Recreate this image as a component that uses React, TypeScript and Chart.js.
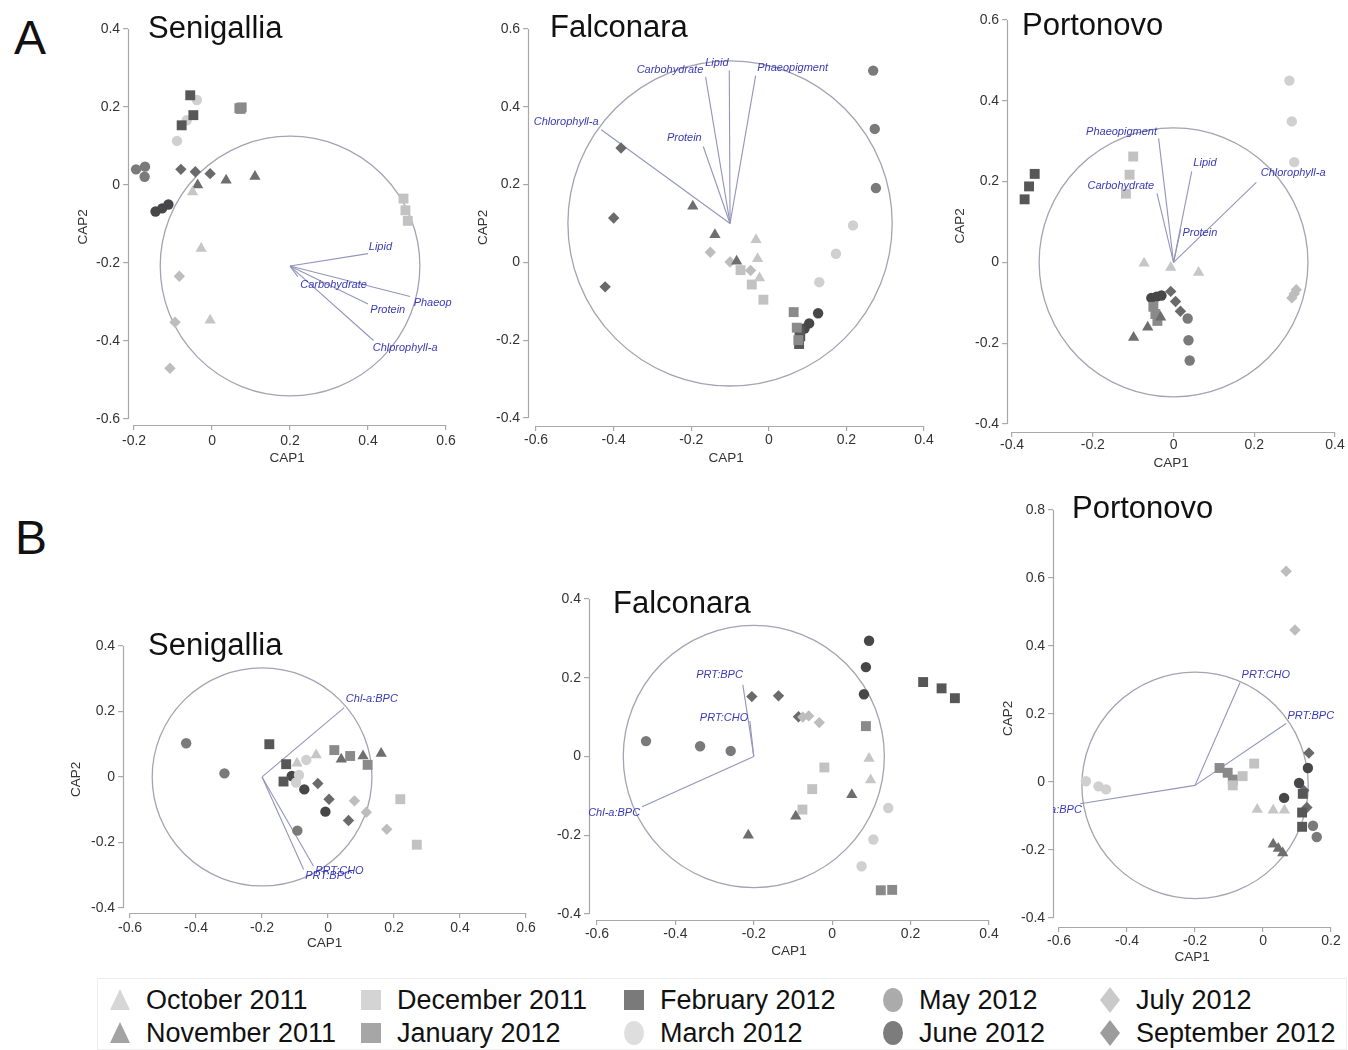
import React, { useEffect, useRef } from "react";
import { Chart, registerables } from "chart.js";

Chart.register(...registerables);

const FONT = '"Liberation Sans", Arial, Helvetica, sans-serif';
const TICK_COLOR = "#333333";
const AXIS_COLOR = "#a8a8a8";
const CIRCLE_COLOR = "#a3a3b3";
const VECTOR_COLOR = "#9494bc";
const VLABEL_COLOR = "#3a3ab4";

// ---------- months (legend) ----------
const MONTHS = [
  "October 2011", "November 2011", "December 2011", "January 2012", "February 2012",
  "March 2012", "May 2012", "June 2012", "July 2012", "September 2012",
];
const MONTH_SHAPES = ["triangle", "triangle", "rect", "rect", "rect", "circle", "circle", "circle", "rectRot", "rectRot"];
const MONTH_COLORS = ["#c6c6c6", "#6e6e6e", "#c2c2c2", "#8a8a8a", "#575757", "#d0d0d0", "#7a7a7a", "#474747", "#bdbdbd", "#6a6a6a"];
const LEGEND_COLORS = ["#d6d6d6", "#a3a3a3", "#d4d4d4", "#a6a6a6", "#7a7a7a", "#dedede", "#ababab", "#7c7c7c", "#cacaca", "#9c9c9c"];
const SHAPE_RADIUS: Record<string, number> = { triangle: 6.5, rect: 7, circle: 5.2, rectRot: 5.7 };

// ---------- tick values ----------
const A_SEN_X_TICKS = [-0.2, 0, 0.2, 0.4, 0.6];
const A_SEN_Y_TICKS = [-0.6, -0.4, -0.2, 0, 0.2, 0.4];
const A_FAL_X_TICKS = [-0.6, -0.4, -0.2, 0, 0.2, 0.4];
const A_FAL_Y_TICKS = [-0.4, -0.2, 0, 0.2, 0.4, 0.6];
const A_POR_X_TICKS = [-0.4, -0.2, 0, 0.2, 0.4];
const A_POR_Y_TICKS = [-0.4, -0.2, 0, 0.2, 0.4, 0.6];
const B_SEN_X_TICKS = [-0.6, -0.4, -0.2, 0, 0.2, 0.4, 0.6];
const B_SEN_Y_TICKS = [-0.4, -0.2, 0, 0.2, 0.4];
const B_FAL_X_TICKS = [-0.6, -0.4, -0.2, 0, 0.2, 0.4];
const B_FAL_Y_TICKS = [-0.4, -0.2, 0, 0.2, 0.4];
const B_POR_X_TICKS = [-0.6, -0.4, -0.2, 0, 0.2];
const B_POR_Y_TICKS = [-0.4, -0.2, 0, 0.2, 0.4, 0.6, 0.8];

// ---------- points: one list per month, in MONTHS order: [CAP1, CAP2] ----------
const A_SENIGALLIA_POINTS = [
  [[-0.05, -0.018], [-0.028, -0.163], [-0.005, -0.347]],
  [[-0.037, 0.0], [0.036, 0.012], [0.11, 0.022]],
  [[0.491, -0.035], [0.496, -0.065], [0.502, -0.092]],
  [[0.07, 0.197], [0.076, 0.199], [0.073, 0.195]],
  [[-0.056, 0.23], [-0.048, 0.179], [-0.078, 0.153]],
  [[-0.039, 0.218], [-0.065, 0.166], [-0.09, 0.113]],
  [[-0.195, 0.04], [-0.172, 0.047], [-0.173, 0.021]],
  [[-0.145, -0.068], [-0.128, -0.06], [-0.112, -0.05]],
  [[-0.084, -0.234], [-0.095, -0.352], [-0.108, -0.47]],
  [[-0.08, 0.04], [-0.043, 0.034], [-0.005, 0.029]],
];
const A_FALCONARA_POINTS = [
  [[-0.033, 0.058], [-0.029, 0.009], [-0.024, -0.04]],
  [[-0.196, 0.144], [-0.139, 0.071], [-0.083, 0.003]],
  [[-0.073, -0.02], [-0.044, -0.057], [-0.014, -0.096]],
  [[0.064, -0.128], [0.072, -0.168], [0.076, -0.2]],
  [[0.079, -0.175], [0.081, -0.19], [0.078, -0.21]],
  [[0.217, 0.095], [0.173, 0.022], [0.13, -0.051]],
  [[0.269, 0.493], [0.273, 0.343], [0.276, 0.191]],
  [[0.127, -0.131], [0.104, -0.157], [0.092, -0.17]],
  [[-0.151, 0.026], [-0.1, 0.001], [-0.047, -0.021]],
  [[-0.381, 0.294], [-0.4, 0.114], [-0.422, -0.063]],
];
const A_PORTONOVO_POINTS = [
  [[-0.073, -0.002], [-0.007, -0.013], [0.062, -0.025]],
  [[-0.099, -0.186], [-0.064, -0.161], [-0.032, -0.136]],
  [[-0.1, 0.262], [-0.109, 0.217], [-0.118, 0.17]],
  [[-0.05, -0.11], [-0.045, -0.128], [-0.04, -0.145]],
  [[-0.344, 0.219], [-0.358, 0.188], [-0.369, 0.156]],
  [[0.287, 0.45], [0.293, 0.349], [0.299, 0.248]],
  [[0.035, -0.139], [0.037, -0.193], [0.04, -0.243]],
  [[-0.055, -0.088], [-0.042, -0.085], [-0.03, -0.082]],
  [[0.293, -0.088], [0.299, -0.078], [0.304, -0.068]],
  [[-0.007, -0.072], [0.005, -0.097], [0.017, -0.121]],
];
const B_SENIGALLIA_POINTS = [
  [[-0.094, 0.042], [-0.036, 0.067]],
  [[0.04, 0.054], [0.106, 0.064], [0.161, 0.072]],
  [[0.219, -0.068], [0.269, -0.207]],
  [[0.019, 0.082], [0.067, 0.064], [0.12, 0.037]],
  [[-0.178, 0.1], [-0.127, 0.039], [-0.135, -0.014]],
  [[-0.066, 0.052], [-0.088, 0.006], [-0.097, -0.017]],
  [[-0.43, 0.103], [-0.314, 0.011], [-0.093, -0.164]],
  [[-0.11, 0.003], [-0.072, -0.038], [-0.008, -0.106]],
  [[0.08, -0.073], [0.116, -0.108], [0.178, -0.16]],
  [[-0.031, -0.02], [0.003, -0.068], [0.062, -0.133]],
];
const B_FALCONARA_POINTS = [
  [[0.094, -0.005], [0.098, -0.06]],
  [[0.05, -0.097], [-0.093, -0.152], [-0.214, -0.2]],
  [[-0.02, -0.028], [-0.051, -0.083], [-0.076, -0.135]],
  [[0.086, 0.077], [0.124, -0.34], [0.153, -0.339]],
  [[0.232, 0.189], [0.279, 0.173], [0.313, 0.148]],
  [[0.143, -0.131], [0.105, -0.211], [0.075, -0.279]],
  [[-0.475, 0.039], [-0.337, 0.026], [-0.259, 0.014]],
  [[0.094, 0.294], [0.086, 0.227], [0.081, 0.158]],
  [[-0.075, 0.1], [-0.06, 0.103], [-0.033, 0.086]],
  [[-0.205, 0.152], [-0.137, 0.154], [-0.086, 0.101]],
];
const B_PORTONOVO_POINTS = [
  [[-0.017, -0.081], [0.03, -0.083], [0.063, -0.083]],
  [[0.03, -0.183], [0.045, -0.196], [0.058, -0.209]],
  [[-0.089, -0.01], [-0.06, 0.017], [-0.026, 0.054]],
  [[-0.128, 0.041], [-0.104, 0.027], [-0.089, 0.007]],
  [[0.117, -0.035], [0.115, -0.09], [0.115, -0.132]],
  [[-0.521, 0.002], [-0.484, -0.013], [-0.462, -0.022]],
  [[0.147, -0.129], [0.158, -0.162]],
  [[0.132, 0.041], [0.106, -0.003], [0.062, -0.047]],
  [[0.068, 0.62], [0.094, 0.447]],
  [[0.135, 0.085], [0.12, -0.025], [0.129, -0.075]],
];

// ---------- correlation circles (centre, radius in CAP units) ----------
const A_SENIGALLIA_CIRCLE = { cx: 0.2, cy: -0.208, r: 0.333 };
const A_FALCONARA_CIRCLE = { cx: -0.1, cy: 0.1, r: 0.418 };
const A_PORTONOVO_CIRCLE = { cx: 0, cy: 0, r: 0.333 };
const B_SENIGALLIA_CIRCLE = { cx: -0.2, cy: 0, r: 0.333 };
const B_FALCONARA_CIRCLE = { cx: -0.2, cy: 0, r: 0.333 };
const B_PORTONOVO_CIRCLE = { cx: -0.2, cy: -0.01, r: 0.333 };

// ---------- vectors: end point and label anchor (CAP units) ----------
type Vec = { name: string; x: number; y: number; lx: number; ly: number; align: "left" | "right" };
const A_SENIGALLIA_VECTORS: Vec[] = [
  { name: "Lipid", x: 0.4, y: -0.176, lx: 0.402, ly: -0.159, align: "left" },
  { name: "Carbohydrate", x: 0.22, y: -0.235, lx: 0.226, ly: -0.256, align: "left" },
  { name: "Phaeop", x: 0.508, y: -0.286, lx: 0.517, ly: -0.302, align: "left" },
  { name: "Protein", x: 0.4, y: -0.305, lx: 0.406, ly: -0.32, align: "left" },
  { name: "Chlprophyll-a", x: 0.414, y: -0.399, lx: 0.412, ly: -0.418, align: "left" },
];
const A_FALCONARA_VECTORS: Vec[] = [
  { name: "Chlorophyll-a", x: -0.432, y: 0.341, lx: -0.439, ly: 0.36, align: "right" },
  { name: "Protein", x: -0.169, y: 0.298, lx: -0.173, ly: 0.32, align: "right" },
  { name: "Carbohydrate", x: -0.163, y: 0.477, lx: -0.169, ly: 0.495, align: "right" },
  { name: "Lipid", x: -0.102, y: 0.494, lx: -0.104, ly: 0.513, align: "right" },
  { name: "Phaeopigment", x: -0.034, y: 0.48, lx: -0.03, ly: 0.5, align: "left" },
];
const A_PORTONOVO_VECTORS: Vec[] = [
  { name: "Phaeopigment", x: -0.037, y: 0.307, lx: -0.041, ly: 0.322, align: "right" },
  { name: "Carbohydrate", x: -0.041, y: 0.171, lx: -0.048, ly: 0.19, align: "right" },
  { name: "Lipid", x: 0.045, y: 0.225, lx: 0.049, ly: 0.245, align: "left" },
  { name: "Protein", x: 0.018, y: 0.082, lx: 0.022, ly: 0.072, align: "left" },
  { name: "Chlorophyll-a", x: 0.205, y: 0.198, lx: 0.216, ly: 0.222, align: "left" },
];
const B_SENIGALLIA_VECTORS: Vec[] = [
  { name: "Chl-a:BPC", x: 0.049, y: 0.212, lx: 0.054, ly: 0.238, align: "left" },
  { name: "PRT:CHO", x: -0.044, y: -0.273, lx: -0.039, ly: -0.288, align: "left" },
  { name: "PRT:BPC", x: -0.074, y: -0.283, lx: -0.069, ly: -0.302, align: "left" },
];
const B_FALCONARA_VECTORS: Vec[] = [
  { name: "PRT:BPC", x: -0.228, y: 0.182, lx: -0.228, ly: 0.207, align: "right" },
  { name: "PRT:CHO", x: -0.21, y: 0.09, lx: -0.214, ly: 0.099, align: "right" },
  { name: "Chl-a:BPC", x: -0.485, y: -0.128, lx: -0.49, ly: -0.144, align: "right" },
];
const B_PORTONOVO_VECTORS: Vec[] = [
  { name: "PRT:CHO", x: -0.068, y: 0.292, lx: -0.063, ly: 0.314, align: "left" },
  { name: "PRT:BPC", x: 0.068, y: 0.172, lx: 0.072, ly: 0.194, align: "left" },
  { name: "Chl-a:BPC", x: -0.538, y: -0.064, lx: -0.533, ly: -0.083, align: "right" },
];

// ---------- panel layout (page pixels) ----------
const PANELS = [
  { id: "aSen", title: "Senigallia", L: 128, T: 29, R: 446, B: 425, px0: 134, py0: 419, cap2X: 83, cap1Off: 33, xPad: 3, titleX: 148, titleBase: 38,
    xTicks: A_SEN_X_TICKS, yTicks: A_SEN_Y_TICKS, points: A_SENIGALLIA_POINTS, circle: A_SENIGALLIA_CIRCLE, vectors: A_SENIGALLIA_VECTORS },
  { id: "aFal", title: "Falconara", L: 528, T: 29, R: 924, B: 426, px0: 536, py0: 418, cap2X: 483, cap1Off: 32, xPad: 1, titleX: 550, titleBase: 37,
    xTicks: A_FAL_X_TICKS, yTicks: A_FAL_Y_TICKS, points: A_FALCONARA_POINTS, circle: A_FALCONARA_CIRCLE, vectors: A_FALCONARA_VECTORS },
  { id: "aPor", title: "Portonovo", L: 1007, T: 20, R: 1335, B: 432, px0: 1012, py0: 424, cap2X: 960, cap1Off: 31, xPad: 0, titleX: 1022, titleBase: 35,
    xTicks: A_POR_X_TICKS, yTicks: A_POR_Y_TICKS, points: A_PORTONOVO_POINTS, circle: A_PORTONOVO_CIRCLE, vectors: A_PORTONOVO_VECTORS },
  { id: "bSen", title: "Senigallia", L: 123, T: 646, R: 526, B: 913, px0: 130, py0: 908, cap2X: 76, cap1Off: 30, xPad: 2, titleX: 148, titleBase: 655,
    xTicks: B_SEN_X_TICKS, yTicks: B_SEN_Y_TICKS, points: B_SENIGALLIA_POINTS, circle: B_SENIGALLIA_CIRCLE, vectors: B_SENIGALLIA_VECTORS },
  { id: "bFal", title: "Falconara", L: 589, T: 599, R: 989, B: 920, px0: 597, py0: 914, cap2X: null, cap1Off: 31, xPad: 1, titleX: 613, titleBase: 613,
    xTicks: B_FAL_X_TICKS, yTicks: B_FAL_Y_TICKS, points: B_FALCONARA_POINTS, circle: B_FALCONARA_CIRCLE, vectors: B_FALCONARA_VECTORS },
  { id: "bPor", title: "Portonovo", L: 1053, T: 510, R: 1331, B: 927, px0: 1059, py0: 918, cap2X: 1008, cap1Off: 30, xPad: 1, titleX: 1072, titleBase: 518,
    xTicks: B_POR_X_TICKS, yTicks: B_POR_Y_TICKS, points: B_PORTONOVO_POINTS, circle: B_PORTONOVO_CIRCLE, vectors: B_PORTONOVO_VECTORS },
];

const fmt = (v: number | string) => {
  const n = Number(v);
  if (Math.abs(n) < 1e-9) return "0";
  return String(Math.round(n * 10) / 10);
};

const TICK_SIZE = 14;
const TITLE_SIZE = 13.5;
const PAD_L = 4, PAD_T = 14, PAD_R = 20, PAD_B = 6, TITLE_LH = TITLE_SIZE * 1.2;

function panelGeometry(p: any) {
  const W = p.cap2X != null ? p.L - p.cap2X + TITLE_LH / 2 : 50;
  const H = p.cap1Off + TITLE_LH / 2;
  const left = p.L - W - PAD_L;
  const top = p.T - PAD_T;
  const width = p.R + PAD_R - left;
  const height = p.B + H + PAD_B - top;
  return { W, H, left, top, width, height };
}

function decoPlugin(p: any) {
  return {
    id: "deco_" + p.id,
    beforeDatasetsDraw(chart: any) {
      const { ctx, chartArea, scales } = chart;
      const x = scales.x, y = scales.y;
      const xs = p.xTicks, ys = p.yTicks;
      ctx.save();
      ctx.strokeStyle = AXIS_COLOR;
      ctx.lineWidth = 1.2;
      ctx.beginPath();
      const ax = Math.round(chartArea.left) + 0.5;
      ctx.moveTo(ax, y.getPixelForValue(ys[ys.length - 1]));
      ctx.lineTo(ax, y.getPixelForValue(ys[0]));
      const ay = Math.round(chartArea.bottom) + 0.5;
      ctx.moveTo(x.getPixelForValue(xs[0]), ay);
      ctx.lineTo(x.getPixelForValue(xs[xs.length - 1]), ay);
      ctx.stroke();
      const c = p.circle;
      const cx = x.getPixelForValue(c.cx), cy = y.getPixelForValue(c.cy);
      const rx = Math.abs(x.getPixelForValue(c.cx + c.r) - cx);
      const ry = Math.abs(y.getPixelForValue(c.cy + c.r) - cy);
      ctx.strokeStyle = CIRCLE_COLOR;
      ctx.lineWidth = 1.3;
      ctx.beginPath();
      ctx.ellipse(cx, cy, rx, ry, 0, 0, Math.PI * 2);
      ctx.stroke();
      ctx.restore();
    },
    afterDatasetsDraw(chart: any) {
      const { ctx, chartArea, scales, width, height } = chart;
      const x = scales.x, y = scales.y;
      ctx.save();
      ctx.beginPath();
      ctx.rect(chartArea.left, 0, width - chartArea.left, height);
      ctx.clip();
      ctx.font = "italic 11px " + FONT;
      ctx.fillStyle = VLABEL_COLOR;
      ctx.textBaseline = "middle";
      p.vectors.forEach((v: Vec) => {
        ctx.textAlign = v.align;
        ctx.fillText(v.name, x.getPixelForValue(v.lx), y.getPixelForValue(v.ly));
      });
      ctx.restore();
    },
  };
}

function Panel({ p }: { p: any }) {
  const ref = useRef<HTMLCanvasElement>(null);
  const g = panelGeometry(p);
  useEffect(() => {
    if (!ref.current) return;
    const xs = p.xTicks, ys = p.yTicks;
    const pxX = (p.R - p.px0) / (xs[xs.length - 1] - xs[0]);
    const pxY = (p.py0 - p.T) / (ys[ys.length - 1] - ys[0]);
    const xMin = xs[0] - (p.px0 - p.L) / pxX;
    const xMax = xs[xs.length - 1];
    const yMax = ys[ys.length - 1];
    const yMin = ys[0] - (p.B - p.py0) / pxY;

    const datasets: any[] = [];
    p.points.forEach((pts: number[][], m: number) => {
      datasets.push({
        label: MONTHS[m],
        data: pts.map(([px, py]) => ({ x: px, y: py })),
        pointStyle: MONTH_SHAPES[m],
        pointRadius: SHAPE_RADIUS[MONTH_SHAPES[m]],
        backgroundColor: MONTH_COLORS[m],
        borderColor: MONTH_COLORS[m],
        borderWidth: 0,
        showLine: false,
        clip: false,
        order: 1,
      });
    });
    p.vectors.forEach((v: Vec) => {
      datasets.push({
        label: v.name,
        data: [{ x: p.circle.cx, y: p.circle.cy }, { x: v.x, y: v.y }],
        showLine: true,
        pointRadius: 0,
        borderColor: VECTOR_COLOR,
        borderWidth: 1.1,
        order: 2,
      });
    });

    const tickFont = { size: TICK_SIZE, family: FONT };
    const titleFont = { size: TITLE_SIZE, family: FONT };
    const chart = new Chart(ref.current, {
      type: "scatter",
      data: { datasets },
      options: {
        animation: false,
        responsive: false,
        maintainAspectRatio: false,
        devicePixelRatio: 1,
        events: [],
        layout: { padding: { left: PAD_L, top: PAD_T, right: PAD_R, bottom: PAD_B } },
        plugins: { legend: { display: false }, tooltip: { enabled: false }, title: { display: false } },
        scales: {
          x: {
            type: "linear",
            position: "bottom",
            min: xMin,
            max: xMax,
            afterBuildTicks: (s: any) => { s.ticks = xs.map((v: number) => ({ value: v })); },
            afterFit: (s: any) => { s.height = g.H; },
            ticks: { autoSkip: false, maxRotation: 0, padding: p.xPad, color: TICK_COLOR, font: tickFont, callback: (v: any) => fmt(v) },
            grid: { display: true, drawOnChartArea: false, drawTicks: true, tickLength: 5, color: AXIS_COLOR, lineWidth: 1.2 },
            border: { display: false },
            title: { display: true, text: "CAP1", color: TICK_COLOR, font: titleFont, padding: 0 },
          },
          y: {
            type: "linear",
            position: "left",
            min: yMin,
            max: yMax,
            afterBuildTicks: (s: any) => { s.ticks = ys.map((v: number) => ({ value: v })); },
            afterFit: (s: any) => { s.width = g.W; },
            ticks: { autoSkip: false, padding: 3, color: TICK_COLOR, font: tickFont, callback: (v: any) => fmt(v) },
            grid: { display: true, drawOnChartArea: false, drawTicks: true, tickLength: 5, color: AXIS_COLOR, lineWidth: 1.2 },
            border: { display: false },
            title: { display: p.cap2X != null, text: "CAP2", color: TICK_COLOR, font: titleFont, padding: 0 },
          },
        },
      } as any,
      plugins: [decoPlugin(p)],
    });
    return () => chart.destroy();
  }, []);
  return (
    <canvas
      ref={ref}
      width={Math.round(g.width)}
      height={Math.round(g.height)}
      style={{ position: "absolute", left: Math.round(g.left), top: Math.round(g.top), width: Math.round(g.width), height: Math.round(g.height) }}
    />
  );
}

function Txt({ x, base, size, text, color = "#111" }: { x: number; base: number; size: number; text: string; color?: string }) {
  return (
    <div style={{ position: "absolute", left: x, top: base - 0.8465 * size, fontSize: size, lineHeight: size + "px", fontFamily: FONT, color, whiteSpace: "nowrap" }}>
      {text}
    </div>
  );
}

function LegendMarker({ shape, color, cx, cy }: { shape: string; color: string; cx: number; cy: number }) {
  const w = 22, h = 26;
  let el: any = null;
  if (shape === "triangle") el = <polygon points={`${w / 2},2 ${w - 1},${h - 3} 1,${h - 3}`} fill={color} />;
  else if (shape === "rect") el = <rect x={1} y={3} width={w - 2} height={h - 6} fill={color} />;
  else if (shape === "circle") el = <ellipse cx={w / 2} cy={h / 2} rx={w / 2 - 1} ry={h / 2 - 1} fill={color} />;
  else el = <polygon points={`${w / 2},0 ${w - 1},${h / 2} ${w / 2},${h} 1,${h / 2}`} fill={color} />;
  return (
    <svg width={w} height={h} style={{ position: "absolute", left: cx - w / 2, top: cy - h / 2 }}>
      {el}
    </svg>
  );
}

const LEGEND_COL_X = [120, 371, 634, 893, 1110];
const LEGEND_ROW_Y = [1000, 1033];

export default function App() {
  return (
    <div style={{ position: "absolute", left: 0, top: 0, width: 1348, height: 1050, background: "#ffffff", overflow: "hidden" }}>
      {PANELS.map((p) => (
        <Panel key={p.id} p={p} />
      ))}
      {PANELS.map((p) => (
        <Txt key={"t" + p.id} x={p.titleX} base={p.titleBase} size={31} text={p.title} />
      ))}
      <Txt x={14} base={55} size={48} text="A" />
      <Txt x={15} base={555} size={48} text="B" />
      <div style={{ position: "absolute", left: 97, top: 978, width: 1248, height: 70, border: "1px solid #eeeeee" }} />
      {MONTHS.map((m, i) => {
        const col = Math.floor(i / 2);
        const row = i % 2;
        const cx = LEGEND_COL_X[col];
        const cy = LEGEND_ROW_Y[row];
        return (
          <React.Fragment key={m}>
            <LegendMarker shape={MONTH_SHAPES[i]} color={LEGEND_COLORS[i]} cx={cx} cy={cy} />
            <Txt x={cx + 26} base={cy + 10} size={27} text={m} />
          </React.Fragment>
        );
      })}
    </div>
  );
}
